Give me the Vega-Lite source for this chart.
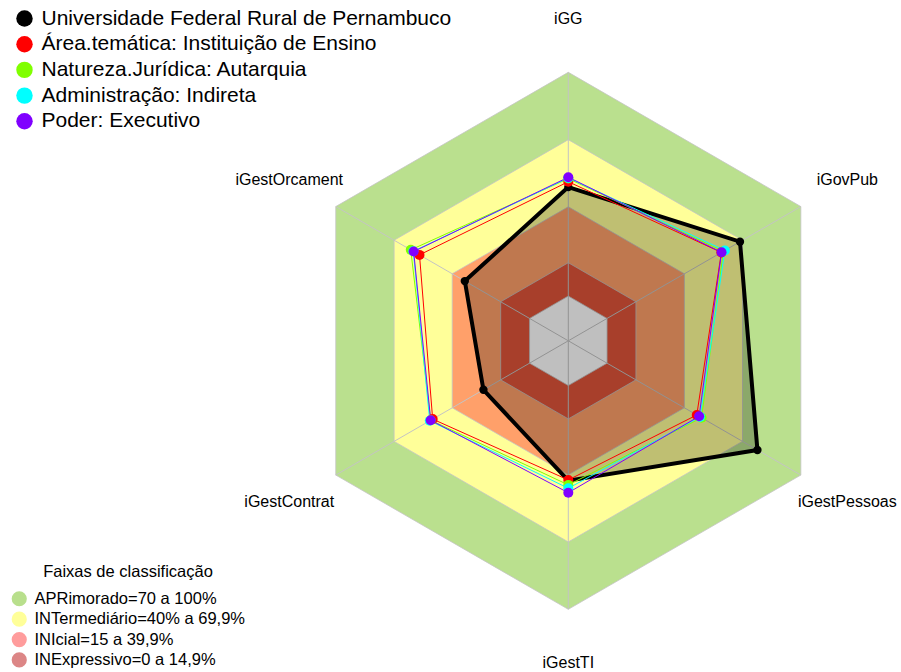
{
  "$schema": "https://vega.github.io/schema/vega-lite/v6.json",
  "width": 901,
  "height": 672,
  "autosize": "none",
  "padding": 0,
  "background": "white",
  "config": {"view": {"stroke": null}, "font": "Liberation Sans"},
  "datasets": {
    "axes": [
      {"axis": "iGG", "k": 0},
      {"axis": "iGovPub", "k": 1},
      {"axis": "iGestPessoas", "k": 2},
      {"axis": "iGestTI", "k": 3},
      {"axis": "iGestContrat", "k": 4},
      {"axis": "iGestOrcament", "k": 5}
    ],
    "faixas": [
      {"band": "APRimorado=70 a 100%"},
      {"band": "INTermediário=40% a 69,9%"},
      {"band": "INIcial=15 a 39,9%"},
      {"band": "INExpressivo=0 a 14,9%"}
    ],
    "bands": [
      {"band": "APRimorado=70 a 100%", "level": 1, "k": 0},
      {"band": "APRimorado=70 a 100%", "level": 1, "k": 1},
      {"band": "APRimorado=70 a 100%", "level": 1, "k": 2},
      {"band": "APRimorado=70 a 100%", "level": 1, "k": 3},
      {"band": "APRimorado=70 a 100%", "level": 1, "k": 4},
      {"band": "APRimorado=70 a 100%", "level": 1, "k": 5},
      {"band": "INTermediário=40% a 69,9%", "level": 0.699, "k": 0},
      {"band": "INTermediário=40% a 69,9%", "level": 0.699, "k": 1},
      {"band": "INTermediário=40% a 69,9%", "level": 0.699, "k": 2},
      {"band": "INTermediário=40% a 69,9%", "level": 0.699, "k": 3},
      {"band": "INTermediário=40% a 69,9%", "level": 0.699, "k": 4},
      {"band": "INTermediário=40% a 69,9%", "level": 0.699, "k": 5},
      {"band": "INIcial=15 a 39,9%", "level": 0.399, "k": 0},
      {"band": "INIcial=15 a 39,9%", "level": 0.399, "k": 1},
      {"band": "INIcial=15 a 39,9%", "level": 0.399, "k": 2},
      {"band": "INIcial=15 a 39,9%", "level": 0.399, "k": 3},
      {"band": "INIcial=15 a 39,9%", "level": 0.399, "k": 4},
      {"band": "INIcial=15 a 39,9%", "level": 0.399, "k": 5},
      {"band": "INExpressivo=0 a 14,9%", "level": 0.149, "k": 0},
      {"band": "INExpressivo=0 a 14,9%", "level": 0.149, "k": 1},
      {"band": "INExpressivo=0 a 14,9%", "level": 0.149, "k": 2},
      {"band": "INExpressivo=0 a 14,9%", "level": 0.149, "k": 3},
      {"band": "INExpressivo=0 a 14,9%", "level": 0.149, "k": 4},
      {"band": "INExpressivo=0 a 14,9%", "level": 0.149, "k": 5},
      {"band": "centro", "level": 0, "k": 0},
      {"band": "centro", "level": 0, "k": 1},
      {"band": "centro", "level": 0, "k": 2},
      {"band": "centro", "level": 0, "k": 3},
      {"band": "centro", "level": 0, "k": 4},
      {"band": "centro", "level": 0, "k": 5}
    ],
    "scores": [
      {"series": "Universidade Federal Rural de Pernambuco", "axis": "iGG", "k": 0, "value": 0.487},
      {"series": "Universidade Federal Rural de Pernambuco", "axis": "iGovPub", "k": 1, "value": 0.686},
      {"series": "Universidade Federal Rural de Pernambuco", "axis": "iGestPessoas", "k": 2, "value": 0.776},
      {"series": "Universidade Federal Rural de Pernambuco", "axis": "iGestTI", "k": 3, "value": 0.425},
      {"series": "Universidade Federal Rural de Pernambuco", "axis": "iGestContrat", "k": 4, "value": 0.238},
      {"series": "Universidade Federal Rural de Pernambuco", "axis": "iGestOrcament", "k": 5, "value": 0.334},
      {"series": "Área.temática: Instituição de Ensino", "axis": "iGG", "k": 0, "value": 0.511},
      {"series": "Área.temática: Instituição de Ensino", "axis": "iGovPub", "k": 1, "value": 0.59},
      {"series": "Área.temática: Instituição de Ensino", "axis": "iGestPessoas", "k": 2, "value": 0.463},
      {"series": "Área.temática: Instituição de Ensino", "axis": "iGestTI", "k": 3, "value": 0.422},
      {"series": "Área.temática: Instituição de Ensino", "axis": "iGestContrat", "k": 4, "value": 0.5},
      {"series": "Área.temática: Instituição de Ensino", "axis": "iGestOrcament", "k": 5, "value": 0.568},
      {"series": "Natureza.Jurídica: Autarquia", "axis": "iGG", "k": 0, "value": 0.525},
      {"series": "Natureza.Jurídica: Autarquia", "axis": "iGovPub", "k": 1, "value": 0.6},
      {"series": "Natureza.Jurídica: Autarquia", "axis": "iGestPessoas", "k": 2, "value": 0.488},
      {"series": "Natureza.Jurídica: Autarquia", "axis": "iGestTI", "k": 3, "value": 0.444},
      {"series": "Natureza.Jurídica: Autarquia", "axis": "iGestContrat", "k": 4, "value": 0.51},
      {"series": "Natureza.Jurídica: Autarquia", "axis": "iGestOrcament", "k": 5, "value": 0.613},
      {"series": "Administração: Indireta", "axis": "iGG", "k": 0, "value": 0.528},
      {"series": "Administração: Indireta", "axis": "iGovPub", "k": 1, "value": 0.608},
      {"series": "Administração: Indireta", "axis": "iGestPessoas", "k": 2, "value": 0.48},
      {"series": "Administração: Indireta", "axis": "iGestTI", "k": 3, "value": 0.459},
      {"series": "Administração: Indireta", "axis": "iGestContrat", "k": 4, "value": 0.515},
      {"series": "Administração: Indireta", "axis": "iGestOrcament", "k": 5, "value": 0.6},
      {"series": "Poder: Executivo", "axis": "iGG", "k": 0, "value": 0.531},
      {"series": "Poder: Executivo", "axis": "iGovPub", "k": 1, "value": 0.591},
      {"series": "Poder: Executivo", "axis": "iGestPessoas", "k": 2, "value": 0.475},
      {"series": "Poder: Executivo", "axis": "iGestTI", "k": 3, "value": 0.479},
      {"series": "Poder: Executivo", "axis": "iGestContrat", "k": 4, "value": 0.51},
      {"series": "Poder: Executivo", "axis": "iGestOrcament", "k": 5, "value": 0.598}
    ]
  },
  "encoding": {
    "x": {"field": "px", "type": "quantitative", "axis": null, "scale": {"domain": [-2.1166, 1.2391], "nice": false, "zero": false}},
    "y": {"field": "py", "type": "quantitative", "axis": null, "scale": {"domain": [-1.2335, 1.2693], "nice": false, "zero": false}}
  },
  "layer": [
    {
      "data": {"name": "faixas"},
      "mark": {"type": "point", "filled": true, "size": 1, "opacity": 1},
      "encoding": {
        "x": {"datum": 0, "type": "quantitative"},
        "y": {"datum": 0, "type": "quantitative"},
        "fill": {
          "field": "band", "type": "nominal",
          "scale": {
            "domain": ["APRimorado=70 a 100%", "INTermediário=40% a 69,9%", "INIcial=15 a 39,9%", "INExpressivo=0 a 14,9%"],
            "range": ["#B8DF8C", "#FFFF99", "#FF9C9C", "#DC8686"]
          },
          "legend": {
            "orient": "none", "legendX": 11, "legendY": 564, "padding": 0,
            "title": "Faixas de classificação", "titleFontSize": 16.5, "titleFontWeight": "normal",
            "titleColor": "black", "titleAnchor": "middle", "titlePadding": 10,
            "symbolType": "circle", "symbolSize": 230, "symbolStrokeWidth": 0, "symbolOpacity": 1,
            "labelFontSize": 16.5, "labelColor": "black", "labelOffset": 7, "rowPadding": 3.4, "labelLimit": 0
          }
        }
      }
    },
    {
      "data": {"name": "bands"},
      "transform": [
        {"calculate": "(1+5*datum.level)/6", "as": "r"},
        {"calculate": "datum.r*cos(PI/2 - datum.k*PI/3)", "as": "px"},
        {"calculate": "datum.r*sin(PI/2 - datum.k*PI/3)", "as": "py"}
      ],
      "mark": {"type": "line", "interpolate": "linear-closed", "stroke": "#C4C4C4", "strokeWidth": 0.8},
      "encoding": {
        "fill": {
          "field": "band", "type": "nominal", "legend": null,
          "scale": {
            "domain": ["APRimorado=70 a 100%", "INTermediário=40% a 69,9%", "INIcial=15 a 39,9%", "INExpressivo=0 a 14,9%", "centro"],
            "range": ["#BAE08E", "#FFFF99", "#FFA06A", "#E0553A", "#FFFFFF"]
          }
        },
        "detail": {"field": "band"},
        "order": {"field": "k", "type": "quantitative"}
      }
    },
    {
      "data": {"name": "axes"},
      "transform": [
        {"calculate": "cos(PI/2 - datum.k*PI/3)", "as": "px"},
        {"calculate": "sin(PI/2 - datum.k*PI/3)", "as": "py"}
      ],
      "mark": {"type": "rule", "color": "#C4C4C4", "strokeWidth": 1},
      "encoding": {
        "x2": {"datum": 0},
        "y2": {"datum": 0}
      }
    },
    {
      "data": {"name": "scores"},
      "transform": [
        {"filter": "datum.series == 'Universidade Federal Rural de Pernambuco'"},
        {"calculate": "(1+5*datum.value)/6", "as": "r"},
        {"calculate": "datum.r*cos(PI/2 - datum.k*PI/3)", "as": "px"},
        {"calculate": "datum.r*sin(PI/2 - datum.k*PI/3)", "as": "py"}
      ],
      "mark": {"type": "line", "interpolate": "linear-closed", "fill": "black", "fillOpacity": 0.25, "stroke": "black", "strokeWidth": 4},
      "encoding": {
        "order": {"field": "k", "type": "quantitative"}
      }
    },
    {
      "data": {"name": "scores"},
      "transform": [
        {"filter": "datum.series == 'Universidade Federal Rural de Pernambuco'"},
        {"calculate": "(1+5*datum.value)/6", "as": "r"},
        {"calculate": "datum.r*cos(PI/2 - datum.k*PI/3)", "as": "px"},
        {"calculate": "datum.r*sin(PI/2 - datum.k*PI/3)", "as": "py"}
      ],
      "mark": {"type": "point", "filled": true, "opacity": 1, "strokeWidth": 0, "color": "black", "size": 70}
    },
    {
      "data": {"name": "scores"},
      "transform": [
        {"filter": "datum.series != 'Universidade Federal Rural de Pernambuco'"},
        {"calculate": "(1+5*datum.value)/6", "as": "r"},
        {"calculate": "datum.r*cos(PI/2 - datum.k*PI/3)", "as": "px"},
        {"calculate": "datum.r*sin(PI/2 - datum.k*PI/3)", "as": "py"}
      ],
      "mark": {"type": "line", "interpolate": "linear-closed", "strokeWidth": 1},
      "encoding": {
        "color": {
          "field": "series", "type": "nominal",
          "scale": {
            "domain": ["Universidade Federal Rural de Pernambuco", "Área.temática: Instituição de Ensino", "Natureza.Jurídica: Autarquia", "Administração: Indireta", "Poder: Executivo"],
            "range": ["#000000", "#FF0000", "#80FF00", "#00FFFF", "#8000FF"]
          }
        },
        "order": {"field": "k", "type": "quantitative"}
      }
    },
    {
      "data": {"name": "scores"},
      "transform": [
        {"filter": "datum.series != 'Universidade Federal Rural de Pernambuco'"},
        {"calculate": "(1+5*datum.value)/6", "as": "r"},
        {"calculate": "datum.r*cos(PI/2 - datum.k*PI/3)", "as": "px"},
        {"calculate": "datum.r*sin(PI/2 - datum.k*PI/3)", "as": "py"}
      ],
      "mark": {"type": "point", "filled": true, "opacity": 1, "strokeWidth": 0, "size": 100},
      "encoding": {
        "color": {
          "field": "series", "type": "nominal",
          "scale": {
            "domain": ["Universidade Federal Rural de Pernambuco", "Área.temática: Instituição de Ensino", "Natureza.Jurídica: Autarquia", "Administração: Indireta", "Poder: Executivo"],
            "range": ["#000000", "#FF0000", "#80FF00", "#00FFFF", "#8000FF"]
          },
          "legend": {
            "orient": "none", "legendX": 14, "legendY": 8, "padding": 0, "title": null,
            "symbolType": "circle", "symbolSize": 270, "symbolStrokeWidth": 0, "symbolOpacity": 1,
            "labelFontSize": 21, "labelColor": "black", "labelOffset": 6.5, "rowPadding": 3.7, "labelLimit": 0
          }
        }
      }
    },
    {
      "data": {"name": "axes"},
      "transform": [
        {"calculate": "1.2*cos(PI/2 - datum.k*PI/3)", "as": "px"},
        {"calculate": "1.2*sin(PI/2 - datum.k*PI/3)", "as": "py"}
      ],
      "mark": {"type": "text", "fontSize": 16, "color": "black", "align": "center", "baseline": "middle"},
      "encoding": {
        "text": {"field": "axis"}
      }
    }
  ],
  "resolve": {"scale": {"fill": "independent"}, "legend": {"fill": "independent"}}
}
